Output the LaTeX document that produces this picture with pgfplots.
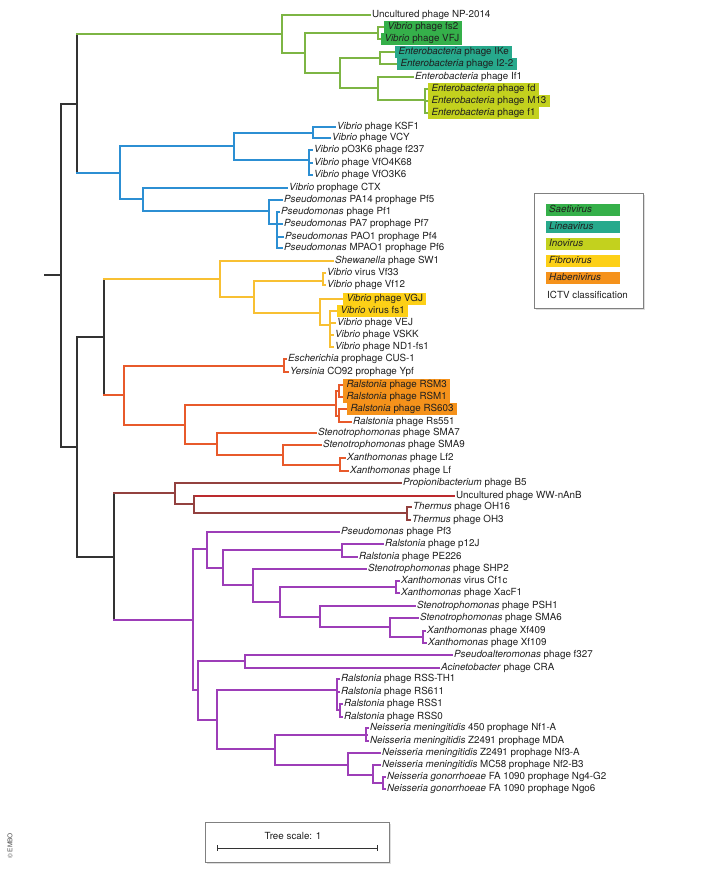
\documentclass[border=0pt]{standalone}
\usepackage{pgfplots}
\pgfplotsset{compat=1.18}
\usepackage{fontspec}
\setmainfont{TeX Gyre Heros}
\definecolor{cK}{HTML}{333333}
\definecolor{cG}{HTML}{7DB544}
\definecolor{cB}{HTML}{2C8FD3}
\definecolor{cY}{HTML}{F8C033}
\definecolor{cR}{HTML}{E85A2B}
\definecolor{cBr}{HTML}{93413F}
\definecolor{cRd}{HTML}{BC2A2E}
\definecolor{cP}{HTML}{9D3EB8}
\definecolor{cSae}{HTML}{35B04A}
\definecolor{cLin}{HTML}{27A98C}
\definecolor{cIno}{HTML}{C3D11E}
\definecolor{cFib}{HTML}{FDD017}
\definecolor{cHab}{HTML}{F5921B}
\definecolor{cBox}{HTML}{808080}
\definecolor{cSh}{HTML}{DDDDDD}
\newcommand{\lf}{\fontsize{9.8pt}{11pt}\selectfont}
\newcommand{\leaf}[3]{\node[anchor=west,inner sep=0pt,text height=7.3pt,text depth=2.2pt,font=\lf,text=black!88] at (axis cs:#1,#2) {#3};}
\newcommand{\bleaf}[4]{\node[anchor=west,fill=#4,inner xsep=3.3pt,inner ysep=1.2pt,text height=7.3pt,text depth=2.2pt,font=\lf,text=black!88] at (axis cs:#1,#2) {#3};}
\begin{document}
\begin{tikzpicture}
\begin{axis}[width=709pt,height=870pt,scale only axis,xmin=0,xmax=709,ymin=0,ymax=870,y dir=reverse,hide axis,clip=false,
  every axis plot/.append style={line width=1.4pt,line cap=rect,mark=none}]
\path (axis cs:0,0) rectangle (axis cs:709,870);
% ---------- black backbone
\addplot[cK] coordinates {(45,275) (61,275)};
\addplot[cK] coordinates {(77,104) (61,104) (61,447) (77,447)};
\addplot[cK] coordinates {(77,34) (77,173)};
\addplot[cK] coordinates {(104,337) (77,337) (77,557) (114,557)};
\addplot[cK] coordinates {(104,279) (104,395)};
\addplot[cK] coordinates {(114,493) (114,620)};
% ---------- green
\addplot[cG] coordinates {(77,34) (282,34)};
\addplot[cG] coordinates {(370,15) (282,15) (282,53) (305,53)};
\addplot[cG] coordinates {(378,33) (305,33) (305,73) (340,73)};
\addplot[cG] coordinates {(384,27) (378,27) (378,39) (381,39)};
\addplot[cG] coordinates {(380,58) (340,58) (340,88) (378,88)};
\addplot[cG] coordinates {(395,52) (380,52) (380,64) (397,64)};
\addplot[cG] coordinates {(413,77) (378,77) (378,100) (425,100)};
\addplot[cG] coordinates {(428,89) (425,89) (425,113) (428,113)};
\addplot[cG] coordinates {(425,101) (428,101)};
% ---------- blue
\addplot[cB] coordinates {(77,173) (120,173)};
\addplot[cB] coordinates {(234,146) (120,146) (120,199) (143,199)};
\addplot[cB] coordinates {(313,133) (234,133) (234,160) (309,160)};
\addplot[cB] coordinates {(335,127) (313,127) (313,138) (330,138)};
\addplot[cB] coordinates {(312,150) (309,150) (309,175) (312,175)};
\addplot[cB] coordinates {(309,163) (312,163)};
\addplot[cB] coordinates {(287,188) (143,188) (143,211) (269,211)};
\addplot[cB] coordinates {(282,200) (269,200) (269,224) (277,224)};
\addplot[cB] coordinates {(279,212) (277,212) (277,248) (282,248)};
\addplot[cB] coordinates {(277,224) (282,224)};
\addplot[cB] coordinates {(277,237) (283,237)};
% ---------- yellow
\addplot[cY] coordinates {(104,279) (220,279)};
\addplot[cY] coordinates {(333,261) (220,261) (220,297) (254,297)};
\addplot[cY] coordinates {(323,281) (254,281) (254,313) (320,313)};
\addplot[cY] coordinates {(325,273) (323,273) (323,285) (325,285)};
\addplot[cY] coordinates {(343,299) (320,299) (320,325) (330,325)};
\addplot[cY] coordinates {(337,311) (330,311) (330,347) (333,347)};
\addplot[cY] coordinates {(330,323) (335,323)};
\addplot[cY] coordinates {(330,335) (333,335)};
% ---------- red
\addplot[cR] coordinates {(104,395) (124,395)};
\addplot[cR] coordinates {(284,366) (124,366) (124,425) (185,425)};
\addplot[cR] coordinates {(286,359) (284,359) (284,372) (288,372)};
\addplot[cR] coordinates {(336,405) (185,405) (185,444) (217,444)};
\addplot[cR] coordinates {(339,391) (336,391) (336,416) (339,416)};
\addplot[cR] coordinates {(343,385) (339,385) (339,397) (343,397)};
\addplot[cR] coordinates {(347,409) (339,409) (339,422) (351,422)};
\addplot[cR] coordinates {(316,433) (217,433) (217,455) (283,455)};
\addplot[cR] coordinates {(321,445) (283,445) (283,465) (340,465)};
\addplot[cR] coordinates {(345,458) (340,458) (340,471) (348,471)};
% ---------- brown
\addplot[cBr] coordinates {(114,493) (175,493)};
\addplot[cBr] coordinates {(401,483) (175,483) (175,504) (194,504)};
\addplot[cRd] coordinates {(194,496) (454,496)};
\addplot[cBr] coordinates {(194,496) (194,513) (407,513)};
\addplot[cBr] coordinates {(411,507) (407,507) (407,520) (410,520)};
% ---------- purple
\addplot[cP] coordinates {(114,620) (193,620)};
\addplot[cP] coordinates {(207,549) (193,549) (193,690) (198,690)};
\addplot[cP] coordinates {(339,532) (207,532) (207,568) (223,568)};
\addplot[cP] coordinates {(342,550) (223,550) (223,585) (253,585)};
\addplot[cP] coordinates {(383,544) (342,544) (342,557) (357,557)};
\addplot[cP] coordinates {(366,569) (253,569) (253,602) (280,602)};
\addplot[cP] coordinates {(396,587) (280,587) (280,617) (320,617)};
\addplot[cP] coordinates {(399,581) (396,581) (396,593) (399,593)};
\addplot[cP] coordinates {(415,606) (320,606) (320,627) (390,627)};
\addplot[cP] coordinates {(418,618) (390,618) (390,637) (423,637)};
\addplot[cP] coordinates {(425,631) (423,631) (423,643) (426,643)};
\addplot[cP] coordinates {(245,661) (198,661) (198,720) (217,720)};
\addplot[cP] coordinates {(452,655) (245,655) (245,668) (439,668)};
\addplot[cP] coordinates {(337,690) (217,690) (217,749) (275,749)};
\addplot[cP] coordinates {(339,679) (337,679) (337,710) (340,710)};
\addplot[cP] coordinates {(337,692) (339,692)};
\addplot[cP] coordinates {(342,704) (340,704) (340,717) (342,717)};
\addplot[cP] coordinates {(367,735) (275,735) (275,765) (348,765)};
\addplot[cP] coordinates {(368,728) (366,728) (366,741) (368,741)};
\addplot[cP] coordinates {(380,753) (348,753) (348,775) (373,775)};
\addplot[cP] coordinates {(380,765) (373,765) (373,783) (383,783)};
\addplot[cP] coordinates {(385,777) (383,777) (383,789) (385,789)};
% ---------- labels: green
\leaf{372}{15}{Uncultured phage NP-2014}
\bleaf{384}{27}{\textit{Vibrio} phage fs2}{cSae}
\bleaf{381}{39}{\textit{Vibrio} phage VFJ}{cSae}
\bleaf{395}{52}{\textit{Enterobacteria} phage IKe}{cLin}
\bleaf{397}{64}{\textit{Enterobacteria} phage I2-2}{cLin}
\leaf{415}{77}{\textit{Enterobacteria} phage If1}
\bleaf{428}{89}{\textit{Enterobacteria} phage fd}{cIno}
\bleaf{428}{101}{\textit{Enterobacteria} phage M13}{cIno}
\bleaf{428}{113}{\textit{Enterobacteria} phage f1}{cIno}
% blue
\leaf{337}{127}{\textit{Vibrio} phage KSF1}
\leaf{332}{138}{\textit{Vibrio} phage VCY}
\leaf{314}{150}{\textit{Vibrio} pO3K6 phage f237}
\leaf{314}{163}{\textit{Vibrio} phage VfO4K68}
\leaf{314}{175}{\textit{Vibrio} phage VfO3K6}
\leaf{289}{188}{\textit{Vibrio} prophage CTX}
\leaf{284}{200}{\textit{Pseudomonas} PA14 prophage Pf5}
\leaf{281}{212}{\textit{Pseudomonas} phage Pf1}
\leaf{284}{224}{\textit{Pseudomonas} PA7 prophage Pf7}
\leaf{285}{237}{\textit{Pseudomonas} PAO1 prophage Pf4}
\leaf{284}{248}{\textit{Pseudomonas} MPAO1 prophage Pf6}
% yellow
\leaf{335}{261}{\textit{Shewanella} phage SW1}
\leaf{327}{273}{\textit{Vibrio} virus Vf33}
\leaf{327}{285}{\textit{Vibrio} phage Vf12}
\bleaf{343}{299}{\textit{Vibrio} phage VGJ}{cFib}
\bleaf{337}{311}{\textit{Vibrio} virus fs1}{cFib}
\leaf{337}{323}{\textit{Vibrio} phage VEJ}
\leaf{335}{335}{\textit{Vibrio} phage VSKK}
\leaf{335}{347}{\textit{Vibrio} phage ND1-fs1}
% red
\leaf{288}{359}{\textit{Escherichia} prophage CUS-1}
\leaf{290}{372}{\textit{Yersinia} CO92 prophage Ypf}
\bleaf{343}{385}{\textit{Ralstonia} phage RSM3}{cHab}
\bleaf{343}{397}{\textit{Ralstonia} phage RSM1}{cHab}
\bleaf{347}{409}{\textit{Ralstonia} phage RS603}{cHab}
\leaf{353}{422}{\textit{Ralstonia} phage Rs551}
\leaf{318}{433}{\textit{Stenotrophomonas} phage SMA7}
\leaf{323}{445}{\textit{Stenotrophomonas} phage SMA9}
\leaf{347}{458}{\textit{Xanthomonas} phage Lf2}
\leaf{350}{471}{\textit{Xanthomonas} phage Lf}
% brown
\leaf{403}{483}{\textit{Propionibacterium} phage B5}
\leaf{456}{496}{Uncultured phage WW-nAnB}
\leaf{413}{507}{\textit{Thermus} phage OH16}
\leaf{412}{520}{\textit{Thermus} phage OH3}
% purple
\leaf{341}{532}{\textit{Pseudomonas} phage Pf3}
\leaf{385}{544}{\textit{Ralstonia} phage p12J}
\leaf{359}{557}{\textit{Ralstonia} phage PE226}
\leaf{368}{569}{\textit{Stenotrophomonas} phage SHP2}
\leaf{401}{581}{\textit{Xanthomonas} virus Cf1c}
\leaf{401}{593}{\textit{Xanthomonas} phage XacF1}
\leaf{417}{606}{\textit{Stenotrophomonas} phage PSH1}
\leaf{420}{618}{\textit{Stenotrophomonas} phage SMA6}
\leaf{427}{631}{\textit{Xanthomonas} phage Xf409}
\leaf{428}{643}{\textit{Xanthomonas} phage Xf109}
\leaf{454}{655}{\textit{Pseudoalteromonas} phage f327}
\leaf{441}{668}{\textit{Acinetobacter} phage CRA}
\leaf{341}{679}{\textit{Ralstonia} phage RSS-TH1}
\leaf{341}{692}{\textit{Ralstonia} phage RS611}
\leaf{344}{704}{\textit{Ralstonia} phage RSS1}
\leaf{344}{717}{\textit{Ralstonia} phage RSS0}
\leaf{370}{728}{\textit{Neisseria meningitidis} 450 prophage Nf1-A}
\leaf{370}{741}{\textit{Neisseria meningitidis} Z2491 prophage MDA}
\leaf{382}{753}{\textit{Neisseria meningitidis} Z2491 prophage Nf3-A}
\leaf{382}{765}{\textit{Neisseria meningitidis} MC58 prophage Nf2-B3}
\leaf{387}{777}{\textit{Neisseria gonorrhoeae} FA 1090 prophage Ng4-G2}
\leaf{387}{789}{\textit{Neisseria gonorrhoeae} FA 1090 prophage Ngo6}
% ---------- legend
\fill[cSh] (axis cs:536,195) rectangle (axis cs:645,310);
\draw[cBox,line width=0.8pt,fill=white] (axis cs:534,193) rectangle (axis cs:643,308);
\fill[cSae] (axis cs:546,204) rectangle (axis cs:620,216);
\fill[cLin] (axis cs:546,221) rectangle (axis cs:620,233);
\fill[cIno] (axis cs:546,238) rectangle (axis cs:620,250);
\fill[cFib] (axis cs:546,255) rectangle (axis cs:620,267);
\fill[cHab] (axis cs:546,272) rectangle (axis cs:620,284);
\leaf{549}{210}{\textit{Saetivirus}}
\leaf{549}{227}{\textit{Lineavirus}}
\leaf{549}{244}{\textit{Inovirus}}
\leaf{549}{261}{\textit{Fibrovirus}}
\leaf{549}{278}{\textit{Habenivirus}}
\leaf{547}{296}{ICTV classification}
% ---------- scale bar
\fill[cSh] (axis cs:207,824) rectangle (axis cs:391,864);
\draw[cBox,line width=0.8pt,fill=white] (axis cs:205,822) rectangle (axis cs:389,862);
\node[font=\lf,text=black!88] at (axis cs:293,836) {Tree scale: 1};
\draw[cK,line width=0.9pt] (axis cs:217,848) -- (axis cs:377,848);
\draw[cK,line width=0.9pt] (axis cs:217,845) -- (axis cs:217,851);
\draw[cK,line width=0.9pt] (axis cs:377,845) -- (axis cs:377,851);
% ---------- copyright
\node[rotate=90,font=\fontsize{6.5pt}{7pt}\selectfont,text=black!70] at (axis cs:10,846) {\textcopyright\ EMBO};
\end{axis}
\end{tikzpicture}
\end{document}
